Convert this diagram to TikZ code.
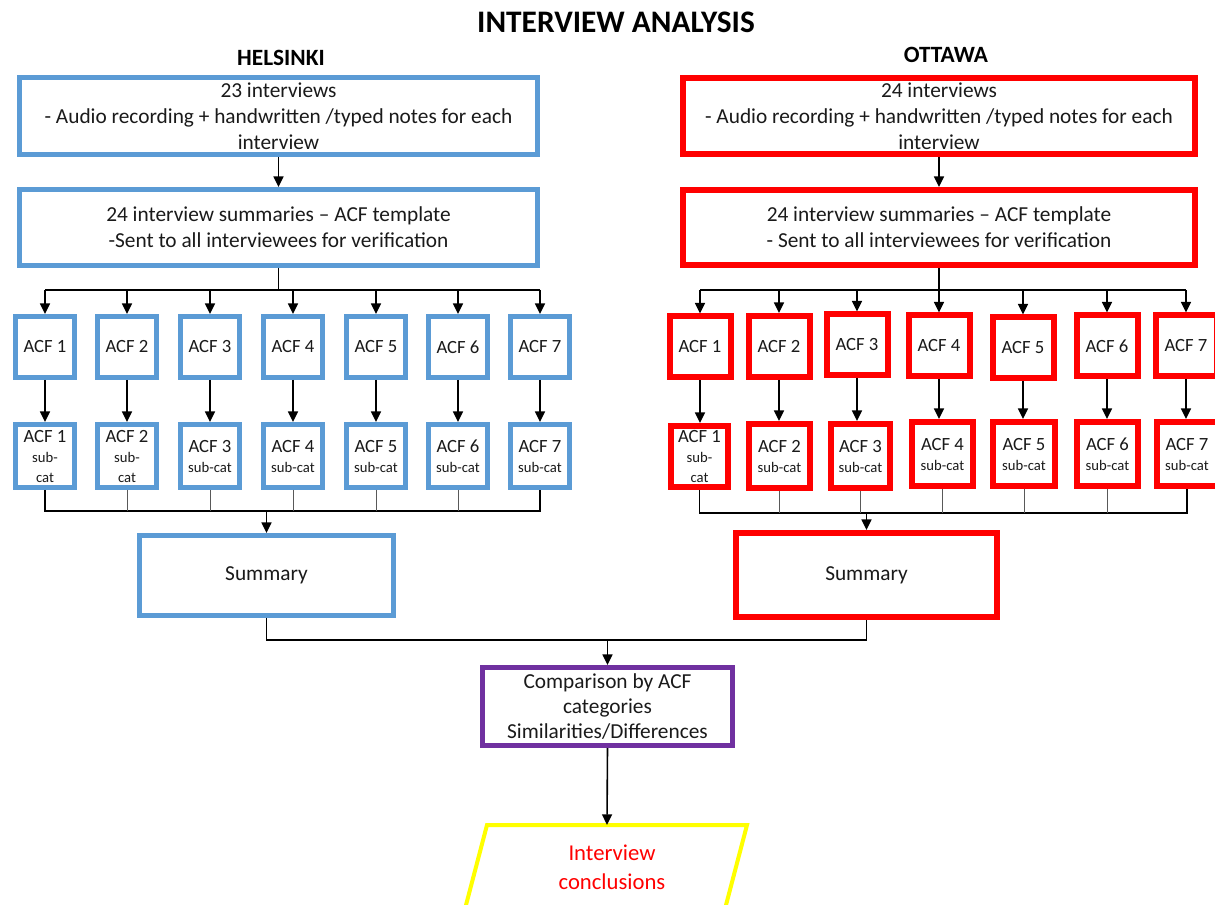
\documentclass[tikz,border=0pt]{standalone}
\usepackage{fontspec}
\setmainfont{Carlito}
\usetikzlibrary{arrows.meta,calc}
\definecolor{hblue}{HTML}{5B9BD5}
\definecolor{ored}{HTML}{FF0000}
\definecolor{cmpurple}{HTML}{7030A0}
\definecolor{cyellow}{HTML}{FFFF00}
\definecolor{ink}{HTML}{1A1A1A}
\newcommand\subc[1]{{\fontsize{11}{13}\selectfont #1}}
\begin{document}
\begin{tikzpicture}[x=0.75pt,y=-0.75pt,
  box/.style={rectangle, fill=white, inner sep=0pt, align=center, text=ink,
              font=\fontsize{16}{19.5}\selectfont},
  hsty/.style={box, draw=hblue, line width=3.75pt},
  osty/.style={box, draw=ored, line width=4.5pt},
  acf/.style={font=\fontsize{14}{15}\selectfont},
  conn/.style={draw=black, line width=1.2pt},
  arr/.style={conn, -{Triangle[length=8pt,width=7.5pt]}},
  feed/.style={draw=black!65, line width=0.5pt},
  head/.style={font=\fontsize{17.5}{21}\selectfont\bfseries, text=black}]
\useasboundingbox (0,0) rectangle (1215,905);
\clip (0,0) rectangle (1215,905);

% headings
\node[font=\fontsize{23.5}{28}\selectfont\bfseries] (title) at (616,22) {INTERVIEW ANALYSIS};
\node[head] (hel) at (281,58) {HELSINKI};
\node[head] (ott) at (946,55) {OTTAWA};

% ---------------- Helsinki column ----------------
\node[hsty, minimum width=388.5pt, minimum height=57.75pt] (h1) at (278.5,116)
  {23 interviews\\- Audio recording + handwritten /typed notes for each\\interview};
\node[hsty, minimum width=388.5pt, minimum height=57pt] (h2) at (278.5,227.5)
  {24 interview summaries -- ACF template\\-Sent to all interviewees for verification};

\foreach \i/\x in {1/45,2/127,3/210,4/293,5/376,6/458,7/540}{
  \node[hsty, acf, minimum width=44.25pt, minimum height=45.75pt] (ha\i) at (\x,347) {ACF \i};
}
\node[hsty, acf, minimum width=44.25pt, minimum height=47.25pt] (hs1) at (45,456) {ACF 1\\\subc{sub-}\\\subc{cat}};
\node[hsty, acf, minimum width=44.25pt, minimum height=47.25pt] (hs2) at (127,456) {ACF 2\\\subc{sub-}\\\subc{cat}};
\foreach \i/\x in {3/210,4/293,5/376,6/458,7/540}{
  \node[hsty, acf, minimum width=44.25pt, minimum height=47.25pt] (hs\i) at (\x,456) {ACF \i\\\subc{sub-cat}};
}
\node[hsty, minimum width=190.5pt, minimum height=60pt] (hsum) at (266.5,575.5) {Summary};

% ---------------- Ottawa column ----------------
\node[osty, minimum width=384pt, minimum height=57pt] (o1) at (939,116)
  {24 interviews\\- Audio recording + handwritten /typed notes for each\\interview};
\node[osty, minimum width=384pt, minimum height=56.25pt] (o2) at (939,227.5)
  {24 interview summaries -- ACF template\\- Sent to all interviewees for verification};

\foreach \i/\x/\y in {1/700/347,2/779/346.5,3/857/345,4/939/346,5/1023/348,6/1107/346,7/1186/346}{
  \node[osty, acf, minimum width=45.75pt, minimum height=45.75pt] (oa\i) at (\x,\y) {ACF \i};
}
\node[osty, acf, minimum width=42.75pt, minimum height=45.75pt] (os1) at (699.5,456.5) {ACF 1\\\subc{sub-}\\\subc{cat}};
\foreach \i/\x/\y/\w in {2/779.5/456/45.75,3/860.5/456/44.25,4/942.5/454/45.75,5/1024/454/46.5,6/1107.5/454/45.75,7/1187/454/45.75}{
  \node[osty, acf, minimum width=\w pt, minimum height=48pt] (os\i) at (\x,\y) {ACF \i\\\subc{sub-cat}};
}
\node[osty, minimum width=195.75pt, minimum height=63pt] (osum) at (866.5,575) {Summary};

% ---------------- comparison and conclusions ----------------
\node[box, draw=cmpurple, line width=3.75pt, minimum width=187.5pt, minimum height=58.5pt,
      font=\fontsize{16}{18.5}\selectfont] (comp) at (607.5,706.5)
  {Comparison by ACF\\categories\\Similarities/Differences};
\draw[cyellow, line width=3pt] (487,825) -- (747,825) -- (723.4,915) -- (463.4,915) -- cycle;
\coordinate (conctop) at (607,825);
\node[align=center, text=ored, font=\fontsize{17}{22}\selectfont] (concl) at (612,867)
  {Interview\\conclusions};

% ---------------- connectors: Helsinki ----------------
\coordinate (hbus) at (278.5,290);
\coordinate (hbot) at (266,511);
\draw[arr] (h1.south) -- (h2.north);
\draw[conn] (h2.south) -- (hbus);
\draw[conn] (ha1.north |- hbus) -- (ha7.north |- hbus);
\foreach \i in {1,...,7}{
  \draw[arr] (ha\i.north |- hbus) -- (ha\i.north);
  \draw[arr] (ha\i.south) -- (hs\i.north);
}
\draw[conn] (hs1.south) -- (hs1.south |- hbot) -- (hs7.south |- hbot) -- (hs7.south);
\foreach \i in {2,...,6}{
  \draw[feed] (hs\i.south) -- (hs\i.south |- hbot);
}
\draw[arr] (hsum.north |- hbot) -- (hsum.north);

% ---------------- connectors: Ottawa ----------------
\coordinate (obus) at (939,290);
\coordinate (obot) at (866.5,513);
\draw[arr] (o1.south) -- (o2.north);
\draw[conn] (o2.south) -- (obus);
\draw[conn] (oa1.north |- obus) -- (oa7.north |- obus);
\foreach \i in {1,...,7}{
  \draw[arr] (oa\i.north |- obus) -- (oa\i.north);
  \draw[arr] (oa\i.south) -- (oa\i.south |- os\i.north);
}
\draw[conn] (os1.south) -- (os1.south |- obot) -- (os7.south |- obot) -- (os7.south);
\foreach \i in {2,...,6}{
  \draw[feed] (os\i.south) -- (os\i.south |- obot);
}
\draw[arr] (osum.north |- obot) -- (osum.north);

% ---------------- merge of both summaries ----------------
\coordinate (merge) at (607,640);
\draw[conn] (hsum.south) -- (hsum.south |- merge) -- (osum.south |- merge) -- (osum.south);
\draw[arr] (comp.north |- merge) -- (comp.north);
\draw[arr] (comp.south) -- (conctop);
\end{tikzpicture}
\end{document}
